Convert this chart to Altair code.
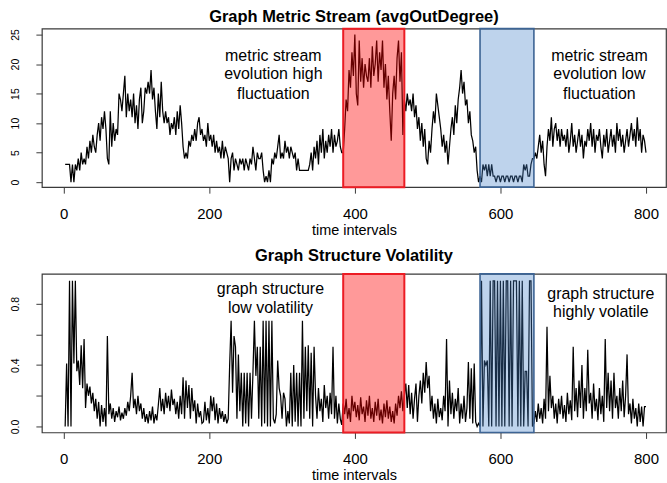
import altair as alt
import pandas as pd

# ---------------- data ----------------
TIME = list(range(2, 801, 2))

AVG_OUT_DEGREE = [3,
    3, 3, 3, 0, 3, 0, 3, 2, 4, 2, 5, 3, 4, 3, 6, 4, 7, 5, 8, 6,
    5, 8, 10, 7, 11, 9, 12, 9, 4, 3, 12, 6, 10, 7, 9, 8, 15, 14, 12, 15,
    18, 11, 15, 12, 14, 11, 15, 10, 13, 9, 14, 16, 10, 12, 16, 15, 17, 15, 19, 14,
    16, 12, 9, 15, 11, 17, 12, 10, 12, 10, 11, 8, 10, 9, 11, 8, 12, 9, 13, 10,
    6, 4, 5, 4, 7, 6, 8, 7, 9, 7, 10, 11, 8, 9, 7, 8, 6, 10, 7, 8,
    6, 8, 5, 7, 5, 6, 4, 7, 4, 6, 5, 4, 0, 4, 5, 2, 4, 3, 2, 4,
    3, 4, 2, 4, 3, 2, 4, 3, 6, 4, 2, 5, 4, 4, 5, 2, 0, 1, 0, 2,
    0, 4, 3, 5, 4, 6, 8, 4, 5, 4, 7, 5, 6, 4, 6, 5, 4, 5, 2, 4,
    2, 2, 2, 2, 2, 2, 2, 3, 5, 2, 6, 4, 7, 3, 8, 5, 9, 4, 7, 5,
    8, 6, 9, 5, 8, 6, 7, 9, 6, 5, 5, 9, 14, 12, 19, 16, 22, 18, 25, 15,
    13, 24, 17, 21, 16, 20, 18, 17, 21, 16, 23, 18, 20, 24, 17, 22, 19, 24, 16, 20,
    14, 18, 12, 7, 15, 18, 14, 21, 24, 17, 22, 8, 14, 12, 15, 13, 14, 12, 15, 11,
    13, 9, 11, 7, 10, 6, 9, 4, 3, 7, 5, 9, 12, 10, 15, 13, 11, 9, 6, 8,
    5, 7, 3, 6, 9, 11, 8, 13, 10, 14, 16, 19, 15, 17, 13, 14, 10, 12, 8, 7,
    5, 6, 2, 0, 1, 0, 3, 2, 3, 1, 3, 1, 3, 1, 1, 0, 1, 1, 0, 1,
    1, 0, 1, 1, 0, 1, 1, 0, 1, 1, 0, 1, 1, 0, 3, 2, 3, 1, 1, 3,
    4, 4, 5, 4, 6, 8, 5, 7, 3, 1, 6, 9, 7, 11, 6, 9, 10, 7, 9, 6,
    9, 7, 8, 6, 9, 5, 7, 10, 6, 8, 5, 7, 9, 6, 8, 4, 7, 6, 9, 7,
    10, 6, 9, 5, 8, 7, 9, 6, 4, 8, 6, 9, 5, 7, 9, 6, 8, 5, 10, 7,
    9, 6, 8, 5, 7, 9, 6, 8, 10, 7, 9, 6, 11, 7, 9, 5, 8, 7, 5,
]

VOLATILITY = [0,
    0.41, 0, 0.95, 0, 0.95, 0.41, 0.95, 0.36, 0.43, 0.27, 0.53, 0.25, 0.57, 0.12, 0.28, 0.2, 0.26, 0.15, 0.22, 0.1,
    0.18, 0.05, 0.16, 0, 0.14, 0.03, 0.12, 0.0, 0.59, 0.08, 0.15, 0.05, 0.12, 0.03, 0.1, 0.06, 0.13, 0.04, 0.09, 0.05,
    0.12, 0.07, 0.16, 0.1, 0.2, 0.35, 0.12, 0.18, 0.08, 0.2, 0.1, 0.15, 0.05, 0.12, 0.03, 0.08, 0.02, 0.1, 0.04, 0.13,
    0.02, 0.08, 0.04, 0.14, 0.25, 0.1, 0.18, 0.08, 0.22, 0.12, 0.2, 0.1, 0.24, 0.14, 0.18, 0.08, 0.16, 0.05, 0.2, 0.08,
    0.32, 0.05, 0.3, 0.12, 0.27, 0.05, 0.25, 0.1, 0.17, 0.02, 0.15, 0.06, 0.1, 0.02, 0.03, 0.16, 0.04, 0.12, 0.02, 0.2,
    0.1, 0.19, 0.04, 0.15, 0.02, 0.12, 0.05, 0.1, 0.03, 0.08, 0.02, 0.05, 0.4, 0.69, 0.22, 0.59, 0.52, 0.05, 0.47, 0.1,
    0.35, 0, 0.35, 0.02, 0.35, 0, 0.35, 0.05, 0.35, 0.69, 0.33, 0.52, 0.05, 0.52, 0.0, 0.69, 0.02, 0.69, 0.0, 0.69,
    0.0, 0.69, 0.05, 0.02, 0.08, 0.43, 0.25, 0.2, 0.05, 0.22, 0.18, 0.0, 0.1, 0.02, 0.35, 0.0, 0.4, 0.03, 0.35, 0.0,
    0.35, 0.0, 0.69, 0.05, 0.52, 0.1, 0.53, 0.05, 0.48, 0.0, 0.52, 0.2, 0.05, 0.25, 0.1, 0.18, 0.03, 0.27, 0.12, 0.2,
    0.05, 0.22, 0.08, 0.52, 0.05, 0.2, 0.02, 0.15, 0.05, 0.01, 0.15, 0.08, 0.18, 0.05, 0.12, 0.03, 0.2, 0.1, 0.16, 0.06,
    0.14, 0.04, 0.19, 0.08, 0.13, 0.03, 0.17, 0.07, 0.2, 0.05, 0.12, 0.03, 0.16, 0.07, 0.18, 0.04, 0.11, 0.02, 0.15, 0.06,
    0.17, 0.05, 0.13, 0.03, 0.1, 0.02, 0.15, 0.07, 0.2, 0.12, 0.23, 0.1, 0.2, 0.28, 0.12, 0.27, 0.08, 0.22, 0.05, 0.18,
    0.28, 0.03, 0.2, 0.3, 0.15, 0.35, 0.22, 0.42, 0.25, 0.33, 0.1, 0.2, 0.05, 0.15, 0.02, 0.18, 0.06, 0.12, 0.04, 0.2,
    0.1, 0.57, 0.0, 0.3, 0.08, 0.22, 0.05, 0.18, 0.1, 0.25, 0.02, 0.15, 0.05, 0.2, 0.03, 0.12, 0.42, 0.05, 0.38, 0.02,
    0.41, 0.03, 0.0, 0.02, 0.0, 0.95, 0.0, 0.43, 0.4, 0.43, 0.0, 0.95, 0.0, 0.95, 0.95, 0.0, 0.95, 0.0, 0.95, 0.0,
    0.95, 0.0, 0.95, 0.95, 0.0, 0.95, 0.0, 0.95, 0.95, 0.95, 0.0, 0.95, 0.0, 0.95, 0.0, 0.36, 0.36, 0.0, 0.95, 0.95,
    0.0, 0.02, 0.1, 0.03, 0.15, 0.05, 0.12, 0.02, 0.18, 0.05, 0.65, 0.1, 0.33, 0.12, 0.2, 0.05, 0.15, 0.02, 0.18, 0.08,
    0.2, 0.05, 0.14, 0.03, 0.22, 0.08, 0.17, 0.04, 0.52, 0.1, 0.25, 0.06, 0.3, 0.12, 0.4, 0.05, 0.25, 0.1, 0.5, 0.15,
    0.22, 0.05, 0.28, 0.1, 0.18, 0.04, 0.25, 0.08, 0.2, 0.03, 0.57, 0.12, 0.35, 0.1, 0.3, 0.05, 0.35, 0.12, 0.2, 0.05,
    0.25, 0.1, 0.3, 0.06, 0.2, 0.47, 0.08, 0.15, 0.02, 0.18, 0.05, 0.12, 0.0, 0.15, 0.03, 0.13, 0.0, 0.13, 0.13,
]

X_TICKS = [0, 200, 400, 600, 800]
TOP_Y_TICKS = [0, 5, 10, 15, 20, 25]
BOT_Y_TICKS = [0, 0.2, 0.4, 0.6, 0.8]

HIGH_FLUCT = [384, 468]   # red window (time intervals)
LOW_FLUCT = [572, 646]    # blue window

TOP_TITLE = "Graph Metric Stream (avgOutDegree)"
BOT_TITLE = "Graph Structure Volatility"
X_TITLE = "time intervals"

TOP_NOTES_LABEL = ["metric stream", "evolution high", "fluctuation",
                   "metric stream", "evolution low", "fluctuation"]
TOP_NOTES_X = [288, 288, 288, 736, 736, 736]
TOP_NOTES_Y = [20.5, 17.4, 14.0, 20.5, 17.4, 14.0]

BOT_NOTES_LABEL = ["graph structure", "low volatility",
                   "graph structure", "highly volatile"]
BOT_NOTES_X = [284, 284, 738, 738]
BOT_NOTES_Y = [0.863, 0.743, 0.834, 0.715]

# ---------------- layout ----------------
X_DOMAIN = [-30, 827.5]
TOP_Y_DOMAIN = [-0.85, 26.0]
BOT_Y_DOMAIN = [-0.039, 0.995]
W, H = 626, 159
FONT = "Liberation Sans"

assert len(TIME) == len(AVG_OUT_DEGREE) == len(VOLATILITY)


def panel(values, ydomain, yticks, label_expr, title, title_offset,
          notes_label, notes_x, notes_y):
    df = pd.DataFrame({"t": TIME, "v": values})
    xenc = alt.X(
        "t:Q",
        scale=alt.Scale(domain=X_DOMAIN, nice=False, zero=False),
        axis=alt.Axis(values=X_TICKS, title=X_TITLE, labelFontSize=15, tickSize=6,
                      labelPadding=13, titleFontSize=14.5, titleFontWeight="normal",
                      titlePadding=2, labelFlush=False, labelFont=FONT, titleFont=FONT,
                      titleColor="black", labelColor="black"),
    )
    yaxis = dict(values=yticks, title=None, labelAngle=270, labelAlign="center",
                 labelBaseline="bottom", labelFontSize=10.5, tickSize=6, labelPadding=15,
                 minExtent=41, maxExtent=41, labelFont=FONT, labelColor="black")
    if label_expr:
        yaxis["labelExpr"] = label_expr
    yenc = alt.Y("v:Q", scale=alt.Scale(domain=ydomain, nice=False, zero=False),
                 axis=alt.Axis(**yaxis))

    line = alt.Chart(df).mark_line(color="black", strokeWidth=1.25, clip=True).encode(x=xenc, y=yenc)

    red_df = pd.DataFrame({"t": [HIGH_FLUCT[0]], "t2": [HIGH_FLUCT[1]],
                           "v": [ydomain[0]], "v2": [ydomain[1]]})
    blue_df = pd.DataFrame({"t": [LOW_FLUCT[0]], "t2": [LOW_FLUCT[1]],
                            "v": [ydomain[0]], "v2": [ydomain[1]]})
    red = alt.Chart(red_df).mark_rect(fill="#ff0000", fillOpacity=0.4, stroke="#ec1c24",
                                      strokeWidth=2).encode(x=xenc, x2="t2:Q", y=yenc, y2="v2:Q")
    blue = alt.Chart(blue_df).mark_rect(fill="#4682c8", fillOpacity=0.35, stroke="#3d6494",
                                        strokeWidth=1.6).encode(x=xenc, x2="t2:Q", y=yenc, y2="v2:Q")

    notes_df = pd.DataFrame({"t": notes_x, "v": notes_y, "label": notes_label})
    notes = alt.Chart(notes_df).mark_text(font=FONT, fontSize=16, align="center",
                                          baseline="alphabetic", color="black").encode(
        x=xenc, y=yenc, text="label:N")

    return alt.layer(line, red, blue, notes).properties(
        width=W, height=H,
        title=alt.TitleParams(title, fontSize=16.5, font=FONT, fontWeight="bold",
                              anchor="middle", baseline="alphabetic", offset=title_offset,
                              color="black"),
    )


top = panel(AVG_OUT_DEGREE, TOP_Y_DOMAIN, TOP_Y_TICKS, None, TOP_TITLE, -10.5,
            TOP_NOTES_LABEL, TOP_NOTES_X, TOP_NOTES_Y)
bottom = panel(VOLATILITY, BOT_Y_DOMAIN, BOT_Y_TICKS,
               "(datum.value * 10) % 4 < 0.5 ? format(datum.value, '.1f') : ''",
               BOT_TITLE, -4.5, BOT_NOTES_LABEL, BOT_NOTES_X, BOT_NOTES_Y)

chart = alt.vconcat(top, bottom, spacing=9).properties(
    padding={"left": 0, "top": 7, "right": 0, "bottom": 0},
    background="white",
).configure_view(stroke="#3a3a3a", strokeWidth=1.2).configure_axis(
    grid=False, domain=False, tickColor="#3a3a3a", tickWidth=1
)

chart.save("out.html", embed_options={"renderer": "svg", "actions": False})
